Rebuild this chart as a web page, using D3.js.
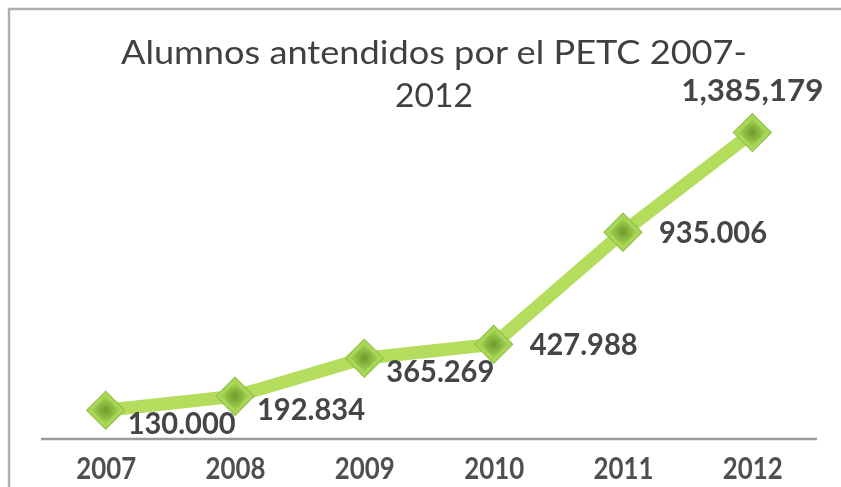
<!DOCTYPE html>
<html>
<head>
<meta charset="utf-8">
<script src="https://cdn.jsdelivr.net/npm/d3@7/dist/d3.min.js"></script>
<style>
  html, body { margin: 0; padding: 0; background: #ffffff; }
  svg { display: block; }
</style>
</head>
<body>
<svg id="chart" width="841" height="487"></svg>
<script>
// ---- data ----
const years = ["2007", "2008", "2009", "2010", "2011", "2012"];
const alumnos = [130000, 192834, 365269, 427988, 935006, 1385179];
const valueLabels = ["130.000", "192.834", "365.269", "427.988", "935.006", "1,385,179"];
const titleLines = ["Alumnos antendidos por el PETC 2007-", "2012"];
const labelPlacement = ["belowRight", "belowRight", "belowRight", "right", "right", "above"];

// ---- layout ----
const W = 841, H = 487;
const svg = d3.select("#chart");
const font = "'Lato', 'DejaVu Sans', sans-serif";

const x = d3.scalePoint().domain(years).range([41, 817]).padding(0.5);
const y = d3.scaleLinear().domain([0, 1600000]).range([439, 85]);

// gradient for markers
const defs = svg.append("defs");
const rg = defs.append("radialGradient").attr("id", "mk").attr("cx", "50%").attr("cy", "50%").attr("r", "60%");
rg.append("stop").attr("offset", "0%").attr("stop-color", "#6e9a2c");
rg.append("stop").attr("offset", "100%").attr("stop-color", "#9ccb4c");
const blur = defs.append("filter").attr("id", "soft").attr("x", "-10%").attr("y", "-10%").attr("width", "120%").attr("height", "120%");
blur.append("feGaussianBlur").attr("stdDeviation", 0.45);

// frame
svg.append("path")
  .attr("d", `M9,${H} L9,9 L${W},9`)
  .attr("fill", "none").attr("stroke", "#b0b0b0").attr("stroke-width", 2.5);

// title
svg.append("g").selectAll("text").data(titleLines).join("text")
  .attr("x", 434).attr("y", (d, i) => 64 + i * 43)
  .attr("text-anchor", "middle")
  .attr("font-family", font).attr("font-size", 33)
  .attr("fill", "#404040")
  .attr("textLength", (d, i) => i === 0 ? 626 : 78)
  .attr("lengthAdjust", "spacingAndGlyphs")
  .attr("filter", "url(#soft)")
  .text(d => d);

// x axis baseline
const xAxis = d3.axisBottom(x).tickSize(0).tickPadding(18);
const gx = svg.append("g").attr("transform", `translate(0,${y(0)})`).call(xAxis);
gx.select(".domain").attr("d", "M41,0H817").attr("stroke", "#9a9a9a").attr("stroke-width", 2.5);
gx.selectAll(".tick text")
  .attr("font-family", font).attr("font-size", 31).attr("font-weight", "bold")
  .attr("fill", "#505050").attr("dy", "0.71em")
  .attr("textLength", 60).attr("lengthAdjust", "spacingAndGlyphs")
  .attr("filter", "url(#soft)");

const pts = years.map((yr, i) => ({ yr, v: alumnos[i], label: valueLabels[i], place: labelPlacement[i] }));

// line
svg.append("path").datum(pts)
  .attr("d", d3.line().x(d => x(d.yr)).y(d => y(d.v)))
  .attr("fill", "none").attr("stroke", "#b4dd5e").attr("stroke-width", 13)
  .attr("stroke-linejoin", "round");

// markers (diamonds)
const mk = svg.append("g").selectAll("g").data(pts).join("g")
  .attr("transform", d => `translate(${x(d.yr)},${y(d.v)}) rotate(45)`);
mk.append("rect").attr("x", -13.5).attr("y", -13.5).attr("width", 27).attr("height", 27)
  .attr("fill", "#a8d656").attr("stroke", "#8fbf45").attr("stroke-width", 1);
mk.append("rect").attr("x", -9.5).attr("y", -9.5).attr("width", 19).attr("height", 19)
  .attr("fill", "url(#mk)");

// value labels
const place = {
  belowRight: { dx: 22, dy: 13, anchor: "start" },
  right: { dx: 36, dy: 0, anchor: "start" },
  above: { dx: 0, dy: -42, anchor: "middle" }
};
svg.append("g").selectAll("text").data(pts).join("text")
  .attr("x", d => x(d.yr) + place[d.place].dx)
  .attr("y", d => y(d.v) + place[d.place].dy)
  .attr("dy", "0.35em")
  .attr("text-anchor", d => place[d.place].anchor)
  .attr("font-family", font).attr("font-size", 30).attr("font-weight", "bold")
  .attr("fill", "#454545")
  .attr("textLength", d => d.label.length === 7 ? 108 : 142)
  .attr("lengthAdjust", "spacingAndGlyphs")
  .attr("filter", "url(#soft)")
  .text(d => d.label);
</script>
</body>
</html>
